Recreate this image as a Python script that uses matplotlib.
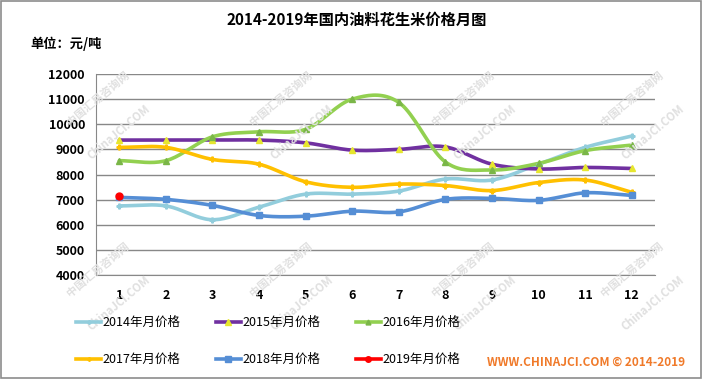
import numpy as np
import matplotlib
matplotlib.use("Agg")
import matplotlib.pyplot as plt
from matplotlib.lines import Line2D

plt.rcParams['font.family'] = ['Noto Sans CJK SC', 'DejaVu Sans']

months = list(range(1, 13))
month_labels = [str(m) for m in months]
y_ticks = [4000, 5000, 6000, 7000, 8000, 9000, 10000, 11000, 12000]

p2014 = [6750, 6750, 6200, 6700, 7220, 7220, 7340, 7820, 7780, 8410, 9080, 9530]
p2015 = [9370, 9370, 9370, 9370, 9260, 8970, 9000, 9100, 8410, 8220, 8280, 8240]
p2016 = [8550, 8550, 9500, 9700, 9800, 11000, 10870, 8500, 8180, 8440, 8950, 9170]
p2017 = [9080, 9080, 8600, 8410, 7710, 7490, 7620, 7560, 7360, 7680, 7780, 7290]
p2018 = [7090, 7010, 6770, 6370, 6340, 6540, 6510, 7010, 7050, 6970, 7270, 7170]
p2019 = [7140]

series = [
    ("2014年月价格", p2014, "#92CDDC", "P", "#92CDDC", 3.5),
    ("2015年月价格", p2015, "#7030A0", "^", "#E6E62E", 5),
    ("2016年月价格", p2016, "#92D050", "^", "#7AB648", 4.5),
    ("2017年月价格", p2017, "#FFC000", "P", "#FFC000", 3.5),
    ("2018年月价格", p2018, "#558ED5", "s", "#558ED5", 5),
    ("2019年月价格", p2019, "#FF0000", "o", "#FF0000", 5),
]


def smooth(x, y, n=20):
    x = np.asarray(x, float)
    y = np.asarray(y, float)
    if len(x) < 2:
        return x, y
    px = np.concatenate([[2 * x[0] - x[1]], x, [2 * x[-1] - x[-2]]])
    py = np.concatenate([[2 * y[0] - y[1]], y, [2 * y[-1] - y[-2]]])
    xs, ys = [], []
    t = np.linspace(0, 1, n, endpoint=False)
    for i in range(1, len(px) - 2):
        def cr(a0, a1, a2, a3):
            return 0.5 * ((2 * a1) + (-a0 + a2) * t + (2 * a0 - 5 * a1 + 4 * a2 - a3) * t ** 2
                          + (-a0 + 3 * a1 - 3 * a2 + a3) * t ** 3)
        xs.append(cr(px[i - 1], px[i], px[i + 1], px[i + 2]))
        ys.append(cr(py[i - 1], py[i], py[i + 1], py[i + 2]))
    xs.append([x[-1]])
    ys.append([y[-1]])
    return np.concatenate(xs), np.concatenate(ys)


fig = plt.figure(figsize=(7.02, 3.79), dpi=100)
fig.patch.set_facecolor('white')

# border
fig.add_artist(plt.Rectangle((0.001, 0.002), 0.997, 0.995, transform=fig.transFigure,
                             fill=False, edgecolor='#8C8C8C', linewidth=1.2))

# watermarks (kept inside the figure)
for (wx, wy) in [(0.14, 0.70), (0.40, 0.70), (0.66, 0.70), (0.90, 0.70),
                 (0.14, 0.25), (0.40, 0.25), (0.66, 0.25), (0.90, 0.25)]:
    fig.text(wx, wy + 0.04, "中国汇易咨询网", rotation=40, color='#E0E0E0', fontsize=8,
             ha='center', va='center', fontweight='bold', zorder=0)
    fig.text(wx + 0.03, wy - 0.05, "ChinaJCI.COM", rotation=40, color='#E0E0E0', fontsize=8,
             ha='center', va='center', fontweight='bold', zorder=0)

ax = fig.add_axes([96 / 702, 1 - 275 / 379, (655 - 96) / 702, (275 - 74) / 379])
ax.set_facecolor('none')

x = np.array(months)
for name, vals, col, mk, mcol, ms in series:
    xv = x[:len(vals)]
    if len(vals) > 1:
        sx, sy = smooth(xv, vals)
        ax.plot(sx, sy, color=col, linewidth=2.6, solid_capstyle='round', zorder=3)
    ax.plot(xv, vals, linestyle='none', marker=mk, color=mcol, markersize=ms,
            markeredgecolor=mcol, zorder=4)

ax.set_xlim(0.5, 12.5)
ax.set_ylim(4000, 12000)
ax.set_yticks(y_ticks)
ax.set_yticklabels([str(v) for v in y_ticks], fontsize=9, fontweight='bold')
ax.set_xticks(months)
ax.set_xticklabels(month_labels, fontsize=9, fontweight='bold')
ax.tick_params(axis='both', length=0, pad=8)
ax.tick_params(axis='x', pad=10)
ax.grid(axis='y', color='#888888', linewidth=1)
ax.set_axisbelow(True)
for s in ['top', 'right']:
    ax.spines[s].set_visible(False)
ax.spines['left'].set_color('#888888')
ax.spines['bottom'].set_color('#888888')

fig.text(357 / 702, 1 - 20 / 379, "2014-2019年国内油料花生米价格月图", ha='center', va='center',
         fontsize=11, fontweight='bold')
fig.text(30 / 702, 1 - 44 / 379, "单位：元/吨", ha='left', va='center', fontsize=9.5,
         fontweight='bold')
fig.text(685 / 702, 1 - 362 / 379, "WWW.CHINAJCI.COM © 2014-2019", ha='right', va='center',
         fontsize=8.5, fontweight='bold', color='#F07A2A')

handles = []
for name, vals, col, mk, mcol, ms in series:
    handles.append(Line2D([0], [0], color=col, linewidth=2.6, marker=mk, markersize=ms - 1,
                          markerfacecolor=mcol, markeredgecolor=mcol))
labels = [s[0] for s in series]
order = [0, 3, 1, 4, 2, 5]
leg = fig.legend([handles[i] for i in order], [labels[i] for i in order],
                 ncol=3, loc='center', bbox_to_anchor=(268 / 702, 1 - 341 / 379),
                 frameon=False, fontsize=9, handlelength=2.0, handletextpad=0.1,
                 columnspacing=2.85, labelspacing=1.9)

fig.savefig("out.png", dpi=100)
